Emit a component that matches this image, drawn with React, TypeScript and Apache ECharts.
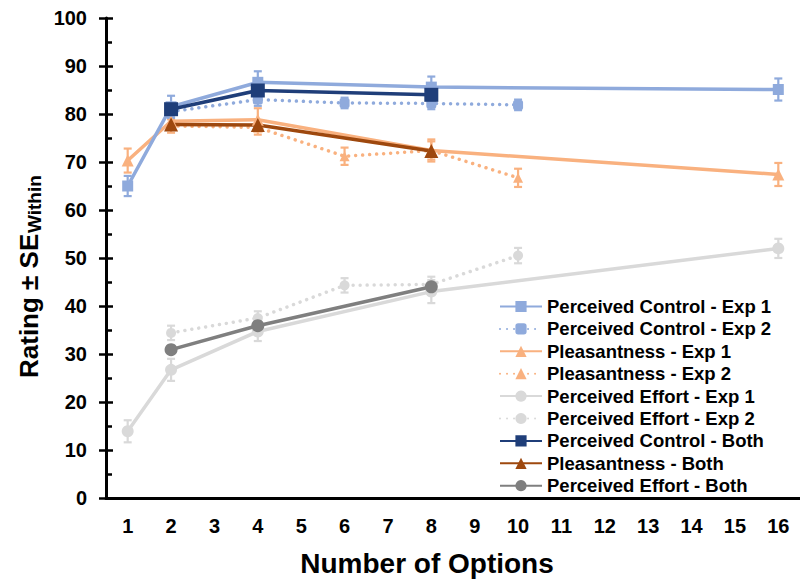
import React, { useEffect, useRef } from "react";
import * as echarts from "echarts";

// ---------- data ----------
const CATEGORIES = ["1", "2", "3", "4", "5", "6", "7", "8", "9", "10", "11", "12", "13", "14", "15", "16"];
const Y_TICKS = { min: 0, max: 100, interval: 10 };

const EXP1_X = [1, 2, 4, 8, 16];
const EXP2_X = [2, 4, 6, 8, 10];
const BOTH_X = [2, 4, 8];

const PC_EXP1 = [65.0, 81.5, 86.6, 85.6, 85.1];
const PC_EXP1_SE = [2.1, 2.3, 2.3, 2.2, 2.3];
const PC_EXP2 = [80.5, 83.0, 82.3, 82.2, 81.9];
const PC_EXP2_SE = [1.2, 1.3, 1.1, 1.2, 1.1];

const PL_EXP1 = [70.3, 78.5, 78.8, 72.4, 67.4];
const PL_EXP1_SE = [2.5, 1.8, 2.4, 2.3, 2.4];
const PL_EXP2 = [77.5, 77.2, 71.2, 72.4, 66.7];
const PL_EXP2_SE = [1.4, 1.5, 1.8, 1.9, 1.9];

const EF_EXP1 = [13.9, 26.7, 34.7, 43.0, 52.0];
const EF_EXP1_SE = [2.3, 2.3, 2.0, 2.4, 2.0];
const EF_EXP2 = [34.4, 37.5, 44.3, 44.5, 50.5];
const EF_EXP2_SE = [1.5, 1.4, 1.5, 1.6, 1.6];

const PC_BOTH = [81.0, 84.9, 84.0];
const PL_BOTH = [77.8, 77.7, 72.3];
const EF_BOTH = [30.9, 35.9, 44.0];

const NAMES = [
  "Perceived Control - Exp 1",
  "Perceived Control - Exp 2",
  "Pleasantness - Exp 1",
  "Pleasantness - Exp 2",
  "Perceived Effort - Exp 1",
  "Perceived Effort - Exp 2",
  "Perceived Control - Both",
  "Pleasantness - Both",
  "Perceived Effort - Both",
];

// ---------- styles ----------
const FONT = '"Liberation Sans", Arial, sans-serif';
const C_PC = "#8FAADC";
const C_PL = "#F9B17F";
const C_EF = "#D9D9D9";
const C_PC_BOTH = "#1F3E79";
const C_PL_BOTH = "#9E480E";
const C_EF_BOTH = "#7F7F7F";
const DOT: number[] = [0.01, 7];

function pairs(xs: number[], ys: number[]) {
  return xs.map((x, i) => [String(x), ys[i]]);
}
function triples(xs: number[], ys: number[], se: number[]) {
  return xs.map((x, i) => [String(x), ys[i], se[i]]);
}

function errorSeries(xs: number[], ys: number[], se: number[], color: string) {
  return {
    type: "custom",
    silent: true,
    encode: { x: 0, y: 1 },
    data: triples(xs, ys, se),
    z: 2,
    renderItem: (params: any, api: any) => {
      const x = api.value(0);
      const v = api.value(1);
      const s = api.value(2);
      const top = api.coord([x, v + s]);
      const bot = api.coord([x, v - s]);
      const w = 4;
      const style = { stroke: color, lineWidth: 2.2 };
      return {
        type: "group",
        children: [
          { type: "line", shape: { x1: top[0], y1: top[1], x2: bot[0], y2: bot[1] }, style },
          { type: "line", shape: { x1: top[0] - w, y1: top[1], x2: top[0] + w, y2: top[1] }, style },
          { type: "line", shape: { x1: bot[0] - w, y1: bot[1], x2: bot[0] + w, y2: bot[1] }, style },
        ],
      };
    },
  };
}

function lineSeries(
  name: string,
  xs: number[],
  ys: number[],
  color: string,
  symbol: string,
  size: number,
  dotted: boolean
) {
  return {
    name,
    type: "line",
    data: pairs(xs, ys),
    symbol,
    symbolSize: size,
    showSymbol: true,
    showAllSymbol: true,
    z: 3,
    itemStyle: { color, borderWidth: 0 },
    lineStyle: dotted
      ? { color, width: 3.5, type: DOT, cap: "round" }
      : { color, width: 3.5, type: "solid" },
  };
}

export default function App() {
  const ref = useRef<HTMLDivElement>(null);

  useEffect(() => {
    if (!ref.current) return;
    const chart = echarts.init(ref.current, null, { renderer: "svg" });

    const axisLabelStyle = {
      fontFamily: FONT,
      fontWeight: "bold",
      fontSize: 20,
      color: "#000",
    };

    const option: any = {
      animation: false,
      backgroundColor: "#fff",
      grid: { left: 106, right: -11, top: 18, bottom: 81, containLabel: false },
      xAxis: {
        type: "category",
        data: CATEGORIES,
        boundaryGap: true,
        axisLine: { show: true, lineStyle: { color: "#000", width: 3 } },
        axisTick: { show: false },
        axisLabel: { ...axisLabelStyle, margin: 18, interval: 0 },
        splitLine: { show: false },
      },
      yAxis: [
        {
          type: "value",
          ...Y_TICKS,
          position: "left",
          axisLine: { show: true, lineStyle: { color: "#000", width: 3 } },
          axisTick: { show: true, inside: false, length: 7, lineStyle: { color: "#000", width: 2.5 } },
          axisLabel: { ...axisLabelStyle, margin: 19 },
          splitLine: { show: false },
        },
        {
          type: "value",
          ...Y_TICKS,
          position: "left",
          axisLine: { show: false },
          axisTick: { show: true, inside: true, length: 7, lineStyle: { color: "#000", width: 2.5 } },
          minorTick: { show: true, splitNumber: 2, length: 6, lineStyle: { color: "#000", width: 2.5 } },
          axisLabel: { show: false },
          splitLine: { show: false },
        },
      ],
      legend: {
        orient: "vertical",
        left: 494,
        top: 292,
        itemWidth: 42,
        itemHeight: 14,
        itemGap: 3.4,
        data: NAMES,
        textStyle: { fontFamily: FONT, fontWeight: "bold", fontSize: 18.5, color: "#000" },
      },
      graphic: [
        {
          type: "group",
          x: 0,
          y: 378,
          rotation: Math.PI / 2,
          children: [
            {
              type: "text",
              x: 0,
              y: 29,
              style: {
                text: "Rating ± SE",
                fontFamily: FONT,
                fontWeight: "bold",
                fontSize: 26,
                fill: "#000",
                align: "left",
                verticalAlign: "middle",
              },
            },
            {
              type: "text",
              x: 145,
              y: 34,
              style: {
                text: "Within",
                fontFamily: FONT,
                fontWeight: "bold",
                fontSize: 19,
                fill: "#000",
                align: "left",
                verticalAlign: "middle",
              },
            },
          ],
        },
        {
          type: "text",
          x: 427,
          y: 563,
          style: {
            text: "Number of Options",
            fontFamily: FONT,
            fontWeight: "bold",
            fontSize: 28,
            fill: "#000",
            align: "center",
            verticalAlign: "middle",
          },
        },
      ],
      series: [
        errorSeries(EXP1_X, EF_EXP1, EF_EXP1_SE, C_EF),
        errorSeries(EXP2_X, EF_EXP2, EF_EXP2_SE, C_EF),
        errorSeries(EXP1_X, PL_EXP1, PL_EXP1_SE, C_PL),
        errorSeries(EXP2_X, PL_EXP2, PL_EXP2_SE, C_PL),
        errorSeries(EXP1_X, PC_EXP1, PC_EXP1_SE, C_PC),
        errorSeries(EXP2_X, PC_EXP2, PC_EXP2_SE, C_PC),
        lineSeries(NAMES[4], EXP1_X, EF_EXP1, C_EF, "circle", 12, false),
        lineSeries(NAMES[5], EXP2_X, EF_EXP2, C_EF, "circle", 10, true),
        lineSeries(NAMES[2], EXP1_X, PL_EXP1, C_PL, "triangle", 12, false),
        lineSeries(NAMES[3], EXP2_X, PL_EXP2, C_PL, "triangle", 10, true),
        lineSeries(NAMES[1], EXP2_X, PC_EXP2, C_PC, "roundRect", 10, true),
        lineSeries(NAMES[0], EXP1_X, PC_EXP1, C_PC, "rect", 11, false),
        lineSeries(NAMES[8], BOTH_X, EF_BOTH, C_EF_BOTH, "circle", 13, false),
        lineSeries(NAMES[7], BOTH_X, PL_BOTH, C_PL_BOTH, "triangle", 14, false),
        lineSeries(NAMES[6], BOTH_X, PC_BOTH, C_PC_BOTH, "rect", 14, false),
      ],
    };

    chart.setOption(option);
    return () => chart.dispose();
  }, []);

  return (
    <div
      ref={ref}
      style={{ position: "fixed", left: 0, top: 0, width: 800, height: 579, background: "#fff" }}
    />
  );
}
